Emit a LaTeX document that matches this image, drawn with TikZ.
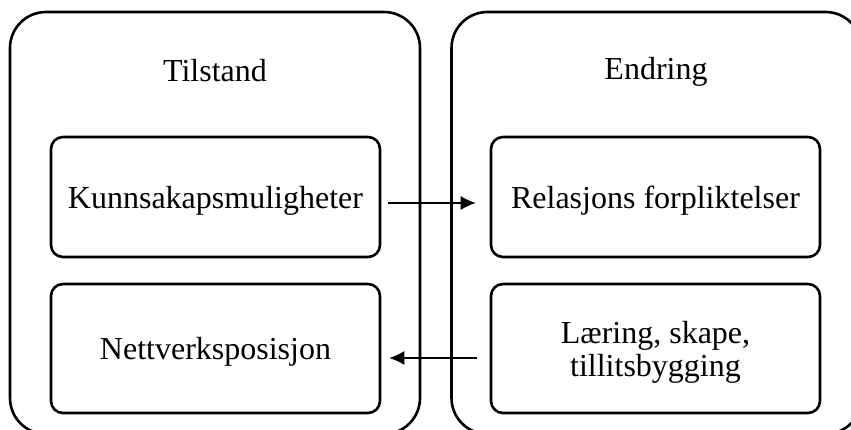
\documentclass[tikz,border=0pt]{standalone}
\usepackage{fontspec}
\setmainfont{Liberation Serif}
\usetikzlibrary{arrows.meta}

\begin{document}
\begin{tikzpicture}[x=1pt, y=-1pt,
        every node/.style={font=\fontsize{32}{33}\selectfont},
        container/.style={draw, line width=2.6pt, rounded corners=36pt, minimum width=410pt, minimum height=422pt},
        item/.style={draw, line width=2.6pt, rounded corners=12pt, minimum width=329pt, align=center, text depth=0pt},
        arr/.style={-{Latex[length=15pt, width=14pt]}, line width=1.3pt}]
        \path[use as bounding box, clip] (0, 0) rectangle (851, 430);
        % outer boxes
        \node[container] (tilstand) at (215, 223) {};
        \node[container] (endring) at (656.5, 223) {};
        \node (tilstandtitle) at (215, 71) {Tilstand};
        \node (endringtitle) at (656, 72) {Endring};
        % inner boxes
        \node[item, minimum height=120pt] (kunn) at (215.5, 197) {Kunnsakapsmuligheter};
        \node[item, minimum height=129pt] (nett) at (215.5, 348.5) {Nettverksposisjon};
        \node[item, minimum height=120pt] (rel) at (655.5, 197) {Relasjons forpliktelser};
        \node[item, minimum height=129pt] (laer) at (655.5, 348.5) {Læring, skape,\\tillitsbygging};
        % arrows
        \draw[arr, shorten <=7pt, shorten >=14pt] ([yshift=-6pt]kunn.east) -- ([yshift=-6pt]rel.west);
        \draw[arr, shorten <=13pt, shorten >=8pt] ([yshift=-9.5pt]laer.west) -- ([yshift=-9.5pt]nett.east);
    \end{tikzpicture}
\end{document}
